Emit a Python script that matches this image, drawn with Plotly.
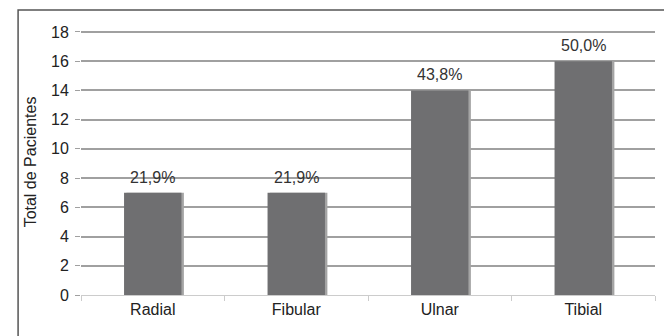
import plotly.graph_objects as go

categories = ["Radial", "Fibular", "Ulnar", "Tibial"]
patients = [7, 7, 14, 16]
pct_labels = ["21,9%", "21,9%", "43,8%", "50,0%"]
y_ticks = list(range(0, 19, 2))

FONT = "Liberation Sans, Arial, sans-serif"
FS = 16

fig = go.Figure()
# shadow bars (light grey, shifted right)
fig.add_trace(go.Bar(
    x=categories, y=patients, width=0.4, offset=-0.183,
    marker=dict(color="#a4a4a4", line=dict(width=0)),
    hoverinfo="skip", showlegend=False,
))
# main bars
fig.add_trace(go.Bar(
    x=categories, y=patients, width=0.4, offset=-0.2,
    marker=dict(color="#6f6f71", line=dict(width=0)),
    showlegend=False,
))

for c, v, t in zip(categories, patients, pct_labels):
    fig.add_annotation(x=c, y=v, text=t, showarrow=False, yanchor="bottom",
                       yshift=5, font=dict(family=FONT, size=FS, color="#333333"))

fig.update_layout(
    width=664, height=336,
    margin=dict(l=81, r=9, t=29, b=41),
    paper_bgcolor="white", plot_bgcolor="white",
    barmode="overlay",
    font=dict(family=FONT, size=FS, color="#222222"),
    xaxis=dict(
        type="category", showgrid=False,
        showline=True, linecolor="#cccccc", linewidth=1,
        ticks="outside", tickson="boundaries", ticklen=5, tickcolor="#cccccc",
        tickfont=dict(family=FONT, size=FS, color="#222222"),
    ),
    yaxis=dict(
        range=[0, 18.2], tickvals=y_ticks,
        showgrid=True, gridcolor="#a0a0a0", gridwidth=1.5,
        zeroline=False, showline=False,
        ticks="outside", ticklen=5, tickcolor="#a0a0a0",
        ticklabelstandoff=3,
        tickfont=dict(family=FONT, size=FS, color="#222222"),
        title=dict(text="Total de Pacientes", font=dict(family=FONT, size=FS, color="#222222"), standoff=10),
    ),
    shapes=[dict(type="rect", xref="paper", yref="paper",
                 x0=-0.1096, x1=1.2, y0=-0.3, y1=1.0714,
                 line=dict(color="#555555", width=1.5), fillcolor="rgba(0,0,0,0)", layer="below")],
)

fig.write_html("out.html")
